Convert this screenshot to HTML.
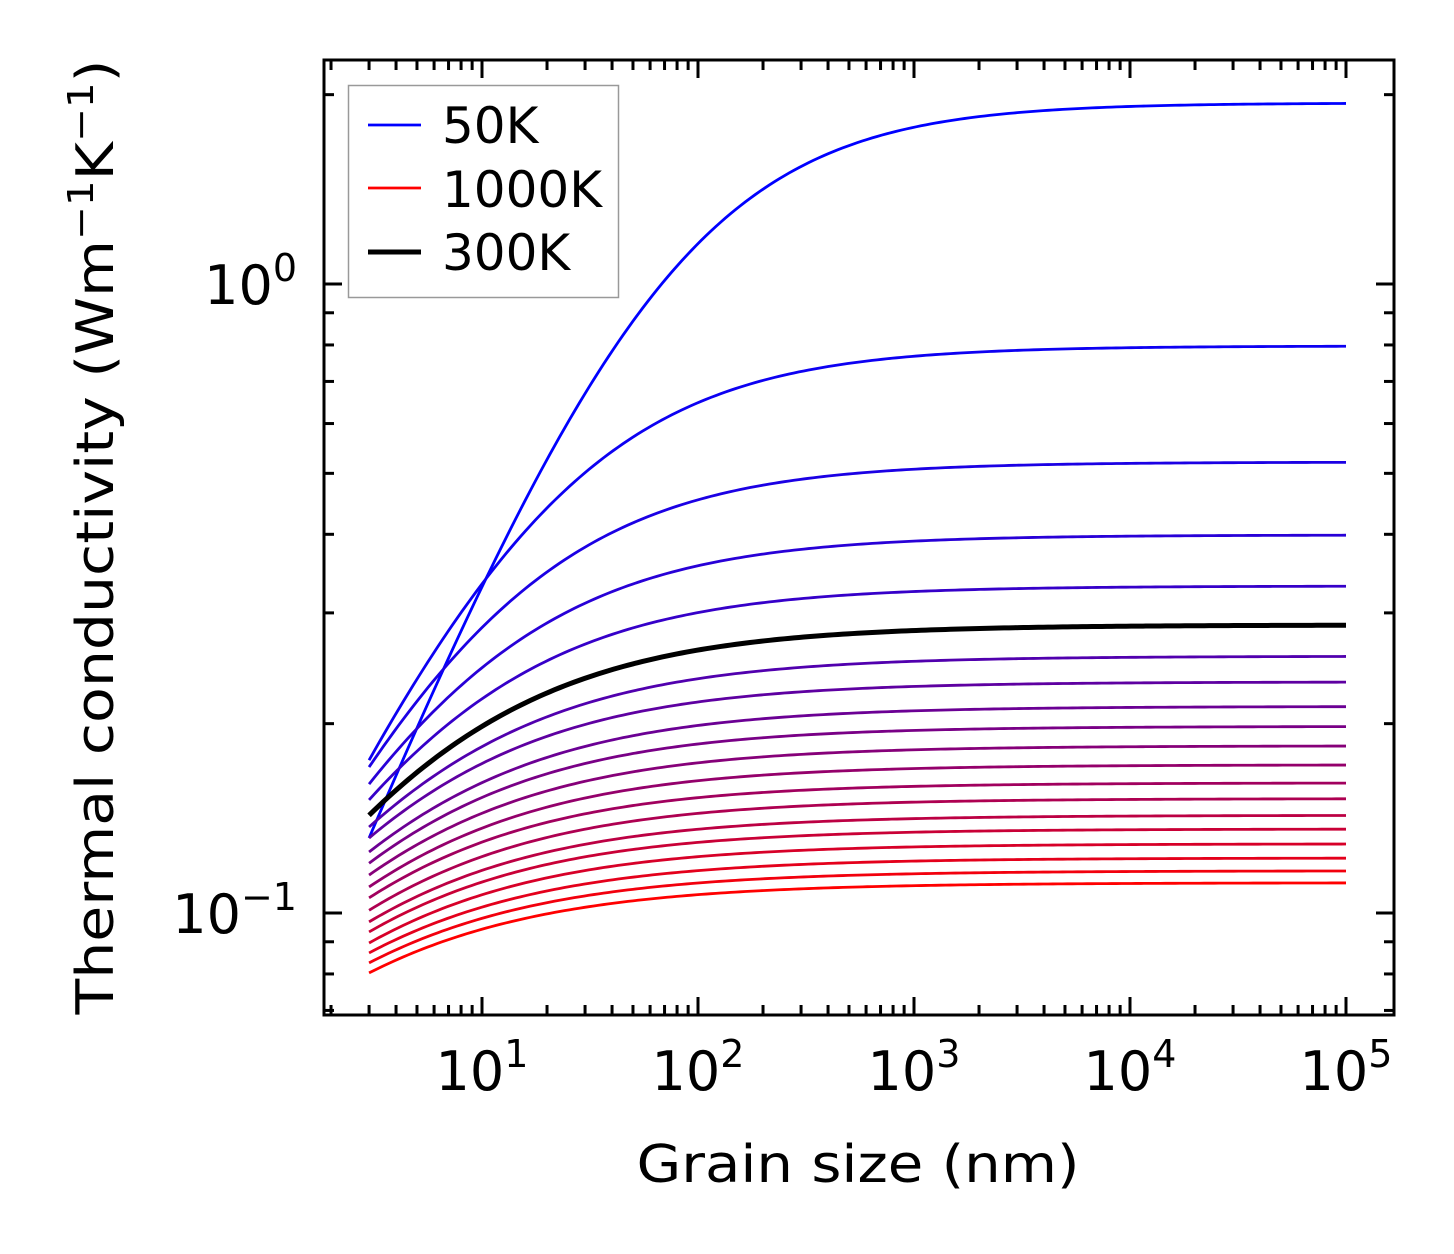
<!DOCTYPE html>
<html><head><meta charset="utf-8"><style>
html,body{margin:0;padding:0;background:#fff}
svg{display:block;font-family:"DejaVu Sans","Liberation Sans",sans-serif}
</style></head><body>
<svg id="chart" width="1454" height="1254" viewBox="0 0 1454 1254" xmlns="http://www.w3.org/2000/svg">
<rect width="1454" height="1254" fill="#fff"/>
<g id="curves"></g>
<g id="ticks"></g>
<rect x="324" y="60" width="1070" height="955" fill="none" stroke="#000" stroke-width="3"/>
<g id="labels" font-size="54" fill="#000"></g>
<text x="858" y="1182" font-size="52" text-anchor="middle" textLength="443" lengthAdjust="spacingAndGlyphs">Grain size (nm)</text>
<text transform="translate(113,537) rotate(-90)" font-size="52" text-anchor="middle" textLength="955" lengthAdjust="spacingAndGlyphs">Thermal conductivity (Wm<tspan baseline-shift="super" font-size="36">−1</tspan>K<tspan baseline-shift="super" font-size="36">−1</tspan>)</text>
<g>
<rect x="348.5" y="85.5" width="270" height="212" fill="#fff" stroke="#999" stroke-width="1.5"/>
<line x1="368" y1="125" x2="421" y2="125" stroke="#0000ff" stroke-width="2.8"/>
<text x="442" y="143" font-size="50">50K</text>
<line x1="368" y1="188" x2="421" y2="188" stroke="#ff0000" stroke-width="2.8"/>
<text x="442" y="207" font-size="50">1000K</text>
<line x1="368" y1="252" x2="421" y2="252" stroke="#000" stroke-width="5"/>
<text x="442" y="270" font-size="50">300K</text>
</g>
</svg>
<script>
const temperatures = [50,100,150,200,250,300,350,400,450,500,550,600,650,700,750,800,850,900,950,1000];
const kBulk = [1.94,0.797,0.521,0.399,0.331,0.287,0.256,0.233,0.213,0.198,0.1844,0.172,0.161,0.152,0.143,0.136,0.1288,0.1223,0.1167,0.1117];
const kAt3nm = [0.1316,0.175,0.1706,0.1603,0.1513,0.143,0.137,0.1316,0.125,0.120,0.1149,0.110,0.1057,0.101,0.0968,0.0933,0.0896,0.0864,0.0833,0.0803];
const shapeExp = [0.86,0.78,0.75,0.72,0.70,0.67,0.66,0.66,0.65,0.65,0.64,0.64,0.64,0.63,0.63,0.63,0.63,0.62,0.62,0.62];
const xTickLabels = ["1","2","3","4","5"];
const yTickLabels = ["0","−1"];
const grainMin = 3, grainMax = 1e5;

const NS = "http://www.w3.org/2000/svg";
const X0 = 482, XD = 216;
const Y0 = 284, YD = 629;
function xScale(v){ return X0 + (Math.log10(v) - 1) * XD; }
function yScale(v){ return Y0 - Math.log10(v) * YD; }
const PL=324, PR=1394, PT=60, PB=1015;

const curves = document.getElementById('curves');
let blackPath = null;
temperatures.forEach((T, i) => {
  const A = kBulk[i] / kAt3nm[i] - 1;
  const pts = [];
  const n = 200;
  for (let j = 0; j <= n; j++) {
    const L = Math.pow(10, Math.log10(grainMin) + (Math.log10(grainMax) - Math.log10(grainMin)) * j / n);
    const k = kBulk[i] / (1 + A * Math.pow(grainMin / L, shapeExp[i]));
    pts.push(xScale(L).toFixed(2) + ',' + yScale(k).toFixed(2));
  }
  const p = document.createElementNS(NS, 'polyline');
  
  
  p.setAttribute('points', pts.join(' '));
  p.setAttribute('fill', 'none');
  const f = i / (temperatures.length - 1);
  if (T === 300) {
    p.setAttribute('stroke', '#000');
    p.setAttribute('stroke-width', '5');
    blackPath = p;
  } else {
    p.setAttribute('stroke', 'rgb(' + Math.round(255 * f) + ',0,' + Math.round(255 * (1 - f)) + ')');
    p.setAttribute('stroke-width', '2.8');
    curves.appendChild(p);
  }
});
if (blackPath) curves.appendChild(blackPath);

const ticks = document.getElementById('ticks');
function tick(x1,y1,x2,y2){
  const l = document.createElementNS(NS,'line');
  
  
  l.setAttribute('x1',x1);l.setAttribute('y1',y1);l.setAttribute('x2',x2);l.setAttribute('y2',y2);
  l.setAttribute('stroke','#000');l.setAttribute('stroke-width','3');
  ticks.appendChild(l);
}
for (let d = 0; d <= 5; d++) {
  for (let m = 1; m <= 9; m++) {
    const v = m * Math.pow(10, d);
    const x = xScale(v);
    if (x < PL + 1 || x > PR - 1) continue;
    const len = m === 1 ? 18 : 10;
    tick(x, PB, x, PB - len); tick(x, PT, x, PT + len);
  }
}
for (let d = -2; d <= 0; d++) {
  for (let m = 1; m <= 9; m++) {
    const v = m * Math.pow(10, d);
    const y = yScale(v);
    if (y < PT + 1 || y > PB - 1) continue;
    const len = m === 1 ? 18 : 10;
    tick(PL, y, PL + len, y); tick(PR, y, PR - len, y);
  }
}
const labels = document.getElementById('labels');
xTickLabels.forEach((e) => {
  const t = document.createElementNS(NS,'text');
  
  
  t.setAttribute('x', xScale(Math.pow(10, +e)));
  t.setAttribute('y', 1090);
  t.setAttribute('text-anchor','middle');
  t.innerHTML = '10<tspan dy="-23" font-size="38">' + e + '</tspan>';
  labels.appendChild(t);
});
yTickLabels.forEach((e) => {
  const t = document.createElementNS(NS,'text');
  
  
  t.setAttribute('x', 297);
  t.setAttribute('y', yScale(Math.pow(10, parseInt(e.replace('−','-')))) + 20);
  t.setAttribute('text-anchor','end');
  t.innerHTML = '10<tspan dy="-23" font-size="38">' + e + '</tspan>';
  labels.appendChild(t);
});
</script>
</body></html>
